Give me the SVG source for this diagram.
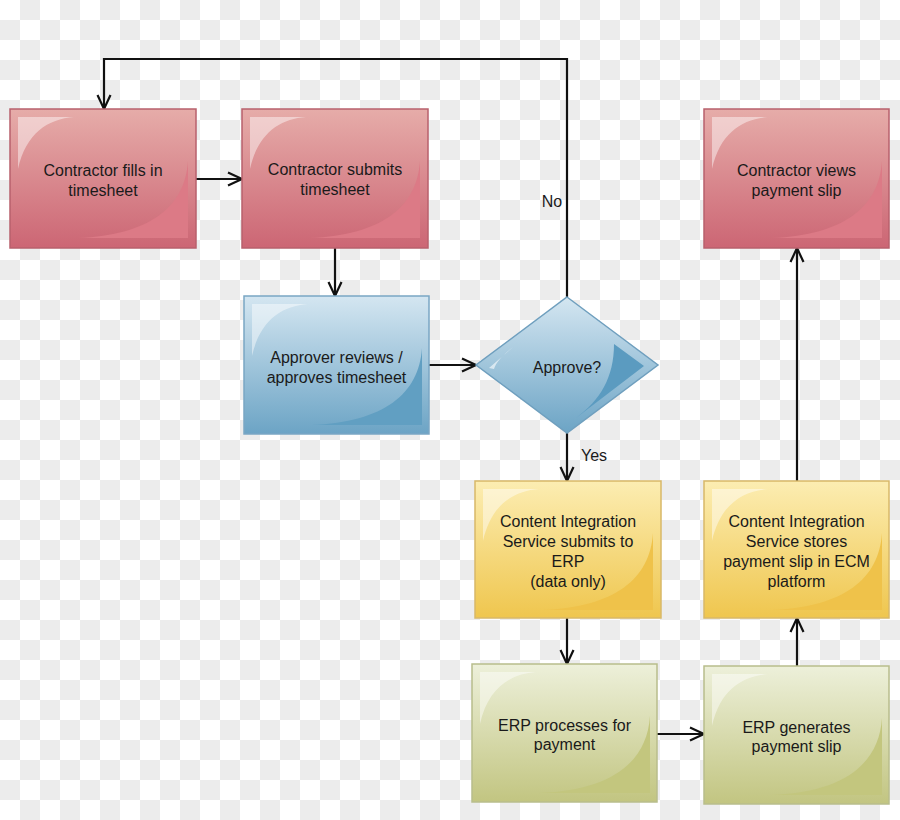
<svg xmlns="http://www.w3.org/2000/svg" xmlns:xlink="http://www.w3.org/1999/xlink" width="900" height="820" viewBox="0 0 900 820">
<style>
  .lbl { font-family: "Liberation Sans", Arial, sans-serif; font-size: 16px; fill: #1a1a1a; text-anchor: middle; }
  .conn { fill: none; stroke: #111; stroke-width: 2.2; marker-end: url(#arr); }
  .conn-plain { fill: none; stroke: #111; stroke-width: 2.2; }
  .box { stroke-width: 1.5; }
  .red { fill: url(#gRed); stroke: #b8606c; }
  .blue { fill: url(#gBlue); stroke: #7aa6c4; }
  .yel { fill: url(#gYel); stroke: #d8b868; }
  .grn { fill: url(#gGrn); stroke: #b8bd8c; }
  .hl { fill: #ffffff; fill-opacity: 0.45; }
</style>
<defs>
  <pattern id="cb" width="40" height="40" patternUnits="userSpaceOnUse">
    <rect width="40" height="40" fill="#ffffff"/>
    <rect x="20" y="0" width="20" height="20" fill="#ececec"/>
    <rect x="0" y="20" width="20" height="20" fill="#ececec"/>
  </pattern>
  <linearGradient id="gRed" x1="0" y1="0" x2="0" y2="1">
    <stop offset="0" stop-color="#e6aca9"/>
    <stop offset="1" stop-color="#cc6674"/>
  </linearGradient>
  <linearGradient id="gBlue" x1="0" y1="0" x2="0" y2="1">
    <stop offset="0" stop-color="#d4e6f1"/>
    <stop offset="1" stop-color="#6ca4c5"/>
  </linearGradient>
  <linearGradient id="gYel" x1="0" y1="0" x2="0" y2="1">
    <stop offset="0" stop-color="#fcedb2"/>
    <stop offset="1" stop-color="#efc64e"/>
  </linearGradient>
  <linearGradient id="gGrn" x1="0" y1="0" x2="0" y2="1">
    <stop offset="0" stop-color="#edf0da"/>
    <stop offset="1" stop-color="#c2c581"/>
  </linearGradient>
  <path id="glossHl" d="M7,8 H64 C38,10 16,24 8,60 V8 Z"/>
  <path id="glossDk" d="M178,52 C175,98 140,126 68,129 H178 Z"/>
  <marker id="arr" markerUnits="userSpaceOnUse" markerWidth="18" markerHeight="18" refX="15" refY="8" orient="auto" overflow="visible">
    <path d="M1,1.5 L15,8 L1,14.5" fill="none" stroke="#111" stroke-width="2.2"/>
  </marker>
</defs>

<rect width="900" height="820" fill="url(#cb)"/>

<g id="connectors">
  <path class="conn" d="M196,179 H242"/>
  <path class="conn" d="M335,248 V296"/>
  <path class="conn" d="M429,365 H476"/>
  <path class="conn" d="M567,297 V59 H104 V109"/>
  <path class="conn" d="M567,433 V481"/>
  <path class="conn" d="M567,618 V664"/>
  <path class="conn" d="M657,734 H704"/>
  <path class="conn" d="M797,666 V618"/>
  <path class="conn" d="M797,481 V248"/>
  <text class="lbl" x="552" y="207">No</text>
  <text class="lbl" x="594" y="461">Yes</text>
</g>

<g id="n1" transform="translate(10,109)">
  <rect class="box red" width="186" height="139"/>
  <use xlink:href="#glossHl" class="hl"/>
  <use xlink:href="#glossDk" fill="#dc7a86"/>
  <text class="lbl" x="93" y="67">Contractor fills in</text>
  <text class="lbl" x="93" y="87">timesheet</text>
</g>

<g id="n2" transform="translate(242,109)">
  <rect class="box red" width="186" height="139"/>
  <use xlink:href="#glossHl" class="hl"/>
  <use xlink:href="#glossDk" fill="#dc7a86"/>
  <text class="lbl" x="93" y="66">Contractor submits</text>
  <text class="lbl" x="93" y="86">timesheet</text>
</g>

<g id="n3" transform="translate(704,109)">
  <rect class="box red" width="185" height="139"/>
  <use xlink:href="#glossHl" class="hl"/>
  <use xlink:href="#glossDk" fill="#dc7a86"/>
  <text class="lbl" x="92.5" y="67">Contractor views</text>
  <text class="lbl" x="92.5" y="87">payment slip</text>
</g>

<g id="n4" transform="translate(244,296)">
  <rect class="box blue" width="185" height="138"/>
  <use xlink:href="#glossHl" class="hl"/>
  <use xlink:href="#glossDk" fill="#619fc2"/>
  <text class="lbl" x="92.5" y="67">Approver reviews /</text>
  <text class="lbl" x="92.5" y="87">approves timesheet</text>
</g>

<g id="n5">
  <polygon points="567,297 658,365 567,433 476,365" fill="url(#gBlue)" stroke="#6f9fbe" stroke-width="1.5"/>
  <path d="M489,368 L513,347 C503,355 496,362 494,369 Z" fill="#ffffff" fill-opacity="0.6"/>
  <path d="M614,344 L644,366 L576,418 C600,400 614,378 614,344 Z" fill="#5b9bc0"/>
  <text class="lbl" x="567" y="373">Approve?</text>
</g>

<g id="n6" transform="translate(475,481)">
  <rect class="box yel" width="186" height="137"/>
  <use xlink:href="#glossHl" class="hl"/>
  <use xlink:href="#glossDk" fill="#efc24a"/>
  <text class="lbl" x="93" y="46">Content Integration</text>
  <text class="lbl" x="93" y="66">Service submits to</text>
  <text class="lbl" x="93" y="86">ERP</text>
  <text class="lbl" x="93" y="106">(data only)</text>
</g>

<g id="n7" transform="translate(704,481)">
  <rect class="box yel" width="185" height="137"/>
  <use xlink:href="#glossHl" class="hl"/>
  <use xlink:href="#glossDk" fill="#efc24a"/>
  <text class="lbl" x="92.5" y="46">Content Integration</text>
  <text class="lbl" x="92.5" y="66">Service stores</text>
  <text class="lbl" x="92.5" y="86">payment slip in ECM</text>
  <text class="lbl" x="92.5" y="106">platform</text>
</g>

<g id="n8" transform="translate(472,664)">
  <rect class="box grn" width="185" height="138"/>
  <use xlink:href="#glossHl" class="hl"/>
  <use xlink:href="#glossDk" fill="#c3c67e"/>
  <text class="lbl" x="92.5" y="67">ERP processes for</text>
  <text class="lbl" x="92.5" y="86">payment</text>
</g>

<g id="n9" transform="translate(704,666)">
  <rect class="box grn" width="185" height="138"/>
  <use xlink:href="#glossHl" class="hl"/>
  <use xlink:href="#glossDk" fill="#c3c67e"/>
  <text class="lbl" x="92.5" y="67">ERP generates</text>
  <text class="lbl" x="92.5" y="86">payment slip</text>
</g>
</svg>
